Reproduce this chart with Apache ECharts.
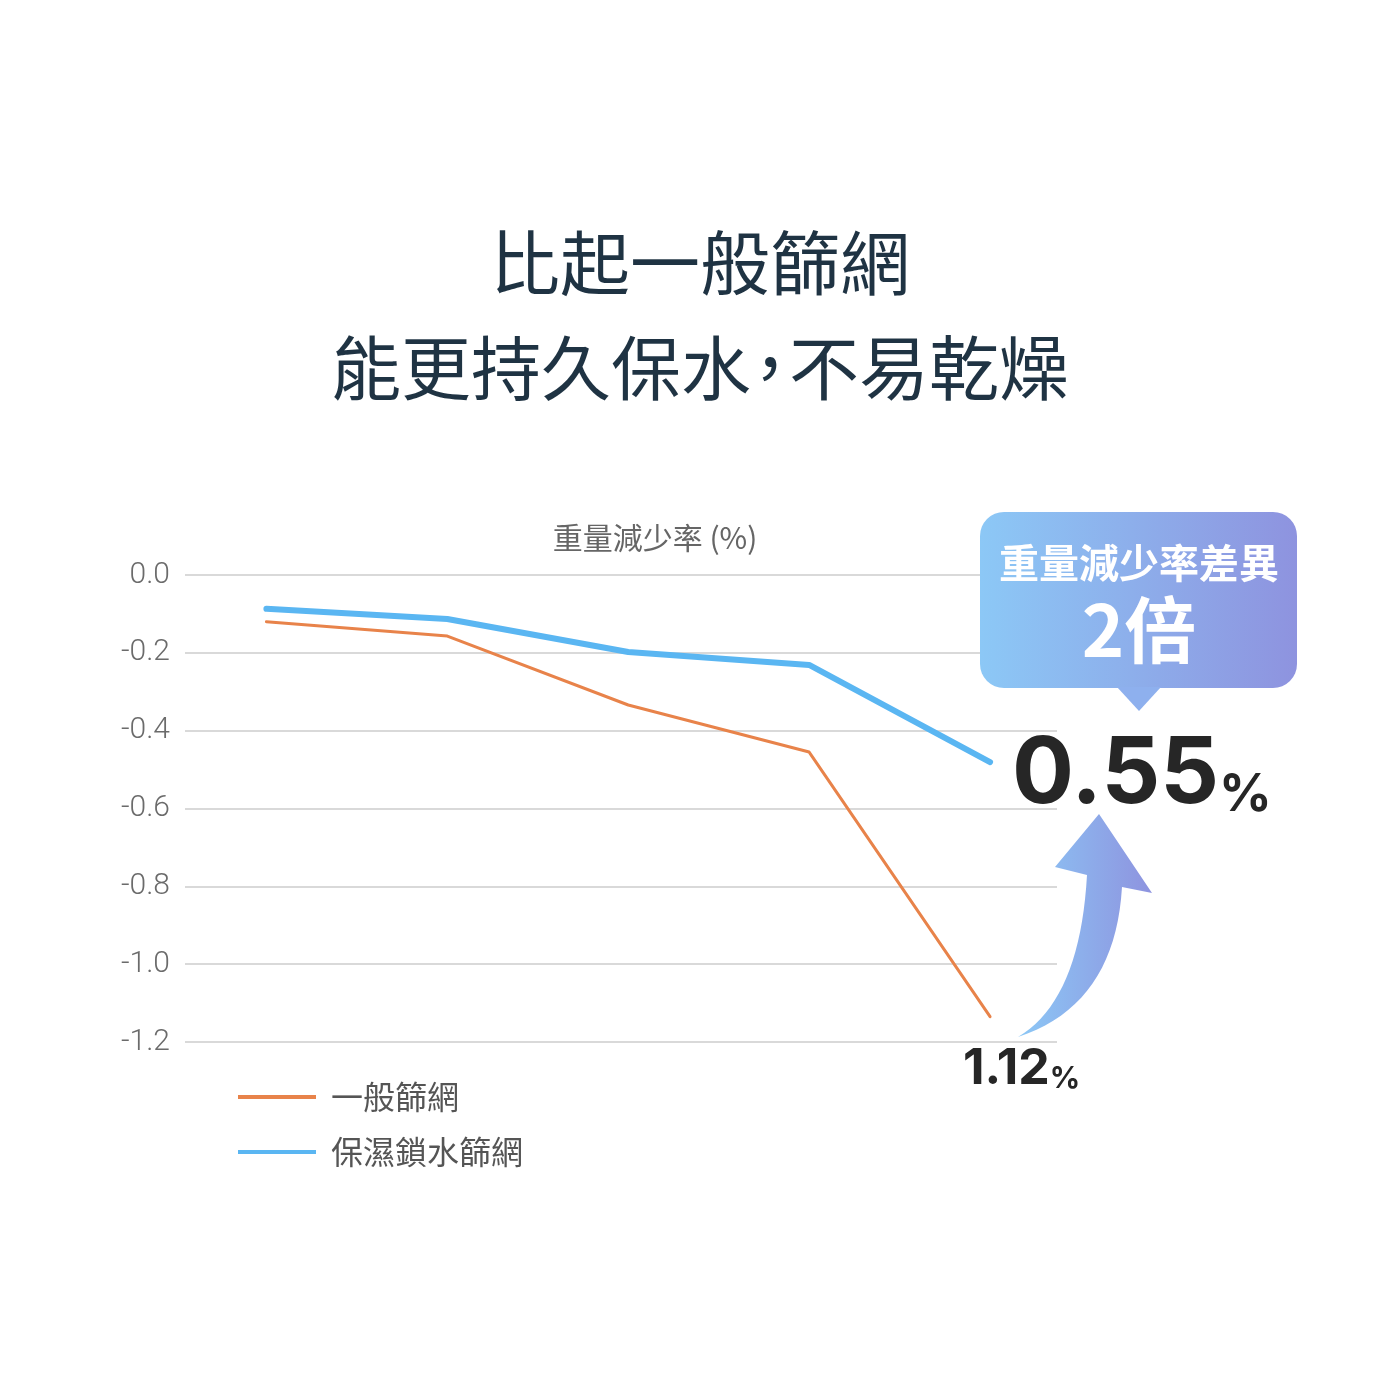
<!DOCTYPE html>
<html>
<head>
  <meta charset="utf-8">
  <title>重量減少率</title>
  <script src="https://cdn.jsdelivr.net/npm/echarts@6/dist/echarts.min.js"></script>
  <style>
    html, body { margin: 0; padding: 0; background: #fff; }
    #chart { width: 1400px; height: 1400px; }
  </style>
</head>
<body>
  <div id="chart"></div>
  <script>
    // data
    var points = ['1', '2', '3', '4', '5'];
    var normalNet = [-0.12, -0.157, -0.334, -0.455, -1.135];
    var wetNet = [-0.087, -0.113, -0.198, -0.231, -0.481];
    var seriesNames = ['一般篩網', '保濕鎖水篩網'];
    var yTicks = { min: -1.2, max: 0, step: 0.2 };

    var font = '"Noto Sans CJK TC", "Noto Sans", sans-serif';
    var numFont = 'Inter, "Noto Sans", sans-serif';

    function pairs(vals) {
      return vals.map(function (v, i) { return [i, v]; });
    }

    // curved arrow outline (decoration)
    function quad(p0, p1, p2, n) {
      var out = [];
      for (var i = 0; i <= n; i++) {
        var t = i / n, u = 1 - t;
        out.push([u * u * p0[0] + 2 * u * t * p1[0] + t * t * p2[0],
                  u * u * p0[1] + 2 * u * t * p1[1] + t * t * p2[1]]);
      }
      return out;
    }
    var arrowPts = quad([1018, 1037], [1080, 1000], [1087, 875], 20)
      .concat([[1055, 867], [1099, 814], [1152, 893], [1122, 887]])
      .concat(quad([1122, 887], [1115, 1005], [1018, 1037], 20).slice(1));

    var grad = function () {
      return new echarts.graphic.LinearGradient(0, 0, 1, 0, [
        { offset: 0, color: '#8cc8f6' },
        { offset: 1, color: '#8e93df' }
      ]);
    };

    var chart = echarts.init(document.getElementById('chart'));
    var option = {
      backgroundColor: '#ffffff',
      animation: false,
      grid: { left: 185, right: 343, top: 575, bottom: 358 },
      xAxis: {
        type: 'value',
        min: -0.45,
        max: 4.37,
        show: false
      },
      yAxis: {
        type: 'value',
        min: yTicks.min,
        max: yTicks.max,
        interval: yTicks.step,
        axisLine: { show: false },
        axisTick: { show: false },
        axisLabel: {
          margin: 15,
          fontSize: 30,
          color: '#6b6b6b',
          fontFamily: 'Roboto, sans-serif',
          fontWeight: 300,
          formatter: function (v) { return v.toFixed(1); }
        },
        splitLine: { lineStyle: { color: '#d9d9d9', width: 2 } }
      },
      legend: {
        orient: 'vertical',
        left: 233,
        top: 1076,
        itemWidth: 78,
        itemHeight: 4,
        itemGap: 23,
        icon: 'rect',
        textStyle: { fontSize: 32, color: '#555', fontFamily: font, padding: [0, 0, 0, 10] },
        data: seriesNames
      },
      series: [
        {
          name: seriesNames[0],
          type: 'line',
          data: pairs(normalNet),
          symbol: 'none',
          color: '#e8834a',
          lineStyle: { width: 3, cap: 'round' }
        },
        {
          name: seriesNames[1],
          type: 'line',
          data: pairs(wetNet),
          symbol: 'none',
          color: '#5ab6f2',
          lineStyle: { width: 6, cap: 'round' }
        }
      ],
      graphic: [
        {
          type: 'text', left: 'center', top: 228, z: 10,
          style: { text: '比起一般篩網', fontSize: 70, fill: '#1f3343', fontFamily: font }
        },
        {
          type: 'text', left: 'center', top: 333, z: 10,
          style: {
            text: '{a|能更持久保水}{c|，}{a|不易乾燥}',
            rich: {
              a: { fontSize: 70, fill: '#1f3343', fontFamily: font },
              c: { fontSize: 70, fill: '#1f3343', fontFamily: font, width: 38, align: 'center' }
            }
          }
        },
        {
          type: 'text', x: 655, y: 538, z: 10,
          style: { text: '重量減少率 (%)', fontSize: 30, fill: '#666', fontFamily: font, align: 'center', verticalAlign: 'middle' }
        },
        {
          type: 'rect', z: 10,
          shape: { x: 980, y: 512, width: 317, height: 176, r: 24 },
          style: { fill: grad() }
        },
        {
          type: 'polygon', z: 10,
          shape: { points: [[1117, 687], [1161, 687], [1139, 711]] },
          style: { fill: '#8eb0ee' }
        },
        {
          type: 'text', x: 1139, y: 563, z: 11,
          style: { text: '重量減少率差異', fontSize: 40, fontWeight: 'bold', fill: '#fff', fontFamily: font, align: 'center', verticalAlign: 'middle' }
        },
        {
          type: 'text', x: 1139, y: 630, z: 11,
          style: { text: '2倍', fontSize: 72, fontWeight: 'bold', fill: '#fff', fontFamily: font, align: 'center', verticalAlign: 'middle' }
        },
        {
          type: 'text', x: 1012, y: 821, z: 11,
          style: {
            text: '{a|0.55}{b|%}',
            verticalAlign: 'bottom',
            rich: {
              a: { fontSize: 92, fontWeight: 'bold', fill: '#262626', fontFamily: numFont, verticalAlign: 'bottom' },
              b: { fontSize: 52, fontWeight: 'bold', fill: '#262626', fontFamily: numFont, verticalAlign: 'bottom' }
            }
          }
        },
        {
          type: 'polygon', z: 10,
          shape: { points: arrowPts },
          style: { fill: grad() }
        },
        {
          type: 'text', x: 963, y: 1094, z: 11,
          style: {
            text: '{a|1.12}{b|%}',
            verticalAlign: 'bottom',
            rich: {
              a: { fontSize: 50, fontWeight: 'bold', fill: '#262626', fontFamily: numFont, verticalAlign: 'bottom' },
              b: { fontSize: 30, fontWeight: 'bold', fill: '#262626', fontFamily: numFont, verticalAlign: 'bottom' }
            }
          }
        }
      ]
    };
    chart.setOption(option);
  </script>
</body>
</html>
